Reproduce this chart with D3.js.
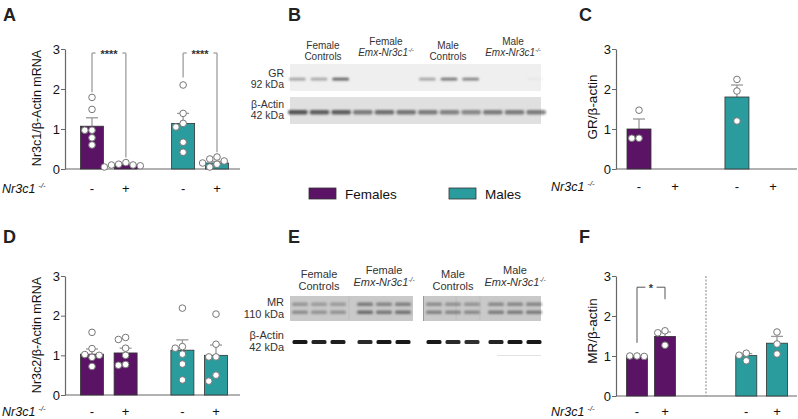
<!DOCTYPE html>
<html><head><meta charset="utf-8">
<script src="https://cdn.jsdelivr.net/npm/d3@7"></script>
<style>body{margin:0;background:#fff}svg{font-family:Arial,"Liberation Sans",sans-serif}</style>
</head><body><svg id="c" width="798" height="419"></svg>
<script>
// ---------------- DATA ----------------
const sexes = ["Females","Males"];
const barSex = ["Females","Females","Males","Males"];
const genotypeLabels = ["-","+","-","+"];
const yTickValues = [0,1,2,3];
const sexColors = {Females:"#5b1465", Males:"#2a9c9e"};

const nr3c1Mean = [1.07, 0.10, 1.14, 0.15];
const nr3c1Sem  = [0.21, 0.02, 0.25, 0.04];
const nr3c1Points = [[1.79,1.49,0.97,0.97,0.78,0.60],[0.05,0.12,0.16,0.10,0.08,0.10],[2.10,1.39,1.14,1.05,0.67,0.42],[0.25,0.30,0.20,0.12,0.15,0.05]];

const nr3c2Mean = [1.03, 1.06, 1.13, 1.00];
const nr3c2Sem  = [0.13, 0.12, 0.26, 0.26];
const nr3c2Points = [[1.58,1.17,1.02,1.00,0.95,0.72],[1.45,1.40,1.18,1.00,0.77,0.75],[2.19,1.22,1.18,1.03,0.78,0.38],[2.04,1.28,0.96,0.96,0.50,0.35]];

const grMean = [1.00, null, 1.80, null];
const grSem  = [0.25, null, 0.30, null];
const grPoints = [[1.47,0.77,0.77],[],[2.24,1.95,1.20],[]];

const mrMean = [1.00, 1.49, 1.01, 1.32];
const mrSem  = [0.01, 0.11, 0.05, 0.17];
const mrPoints = [[0.99,1.00,1.00],[1.63,1.58,1.27],[1.07,1.02,0.88],[1.60,1.30,1.05]];

// significance: [leftBar, rightBar, label, topValue, leftBottomValue, rightBottomValue]
const nr3c1Sig = [[0,1,"****",2.9,1.92,0.29],[2,3,"****",2.9,2.29,0.42]];
const mrSig = [[0,1,"*",2.72,1.33,2.42]];

// western blots
const blotGroups = ["Female|Controls","Female|Emx-Nr3c1","Male|Controls","Male|Emx-Nr3c1"];
const grBand     = [0.40,0.38,0.75, 0,0,0, 0.40,0.65,0.58, 0,0,0.03];
const actinBBand = [0.80,0.75,0.75, 0.58,0.65,0.62, 0.58,0.54,0.50, 0.58,0.58,0.58];
const mrBand     = [0.55,0.50,0.50, 0.85,0.75,0.80, 0.65,0.60,0.58, 0.70,0.72,0.72];
const actinEBand = [0.95,0.90,0.92, 0.88,0.95,0.95, 0.95,0.88,0.85, 0.90,0.95,0.95];

// ---------------- DRAW ----------------
const svg = d3.select("#c");
const defs = svg.append("defs");
defs.append("filter").attr("id","blur").attr("x","-50%").attr("y","-100%").attr("width","200%").attr("height","300%")
  .append("feGaussianBlur").attr("stdDeviation",1.2);
defs.append("filter").attr("id","blur2").attr("x","-50%").attr("y","-100%").attr("width","200%").attr("height","300%")
  .append("feGaussianBlur").attr("stdDeviation",0.7);

function panelLabel(t,x,y){svg.append("text").attr("x",x).attr("y",y).attr("font-size",18).attr("font-weight","bold").attr("fill","#222").text(t);}

function koLabel(g,x,y,size){
  const t=g.append("text").attr("x",x).attr("y",y).attr("font-size",size).attr("font-style","italic").attr("fill","#111");
  t.append("tspan").text("Nr3c1");
  t.append("tspan").attr("dx",3).attr("dy",-5).attr("font-size",size*0.62).text("-/-");
}

function swarm(vals, y, r){
  const placed=[]; const out=[];
  const order = vals.map((v,i)=>i).sort((a,b)=>vals[b]-vals[a]);
  order.forEach(i=>{
    const py=y(vals[i]);
    const cands=[0];
    for(let k=1;k<6;k++){cands.push(-k*(2*r+0.6), k*(2*r+0.6));}
    let chosen=0;
    for(const c of cands){
      if(placed.every(p=>Math.hypot(p[0]-c,p[1]-py)>=2*r+0.3)){chosen=c;break;}
    }
    placed.push([chosen,py]); out[i]=chosen;
  });
  return out;
}

function barPanel(cfg){
  const g=svg.append("g");
  const y=d3.scaleLinear().domain([0,3]).range([cfg.yBottom,cfg.yTop]);
  const x=d3.scaleLinear().domain([0,1]).range(cfg.slotRange);
  const cx=i=>x(cfg.slots[i]);
  g.append("line").attr("x1",cfg.axisX).attr("x2",cfg.endX).attr("y1",y(0)).attr("y2",y(0)).attr("stroke","#666").attr("stroke-width",1.2);
  const ax=g.append("g").attr("transform",`translate(${cfg.axisX},0)`)
    .call(d3.axisLeft(y).tickValues(yTickValues).tickSize(4).tickSizeOuter(0).tickFormat(d3.format("d")));
  ax.select(".domain").attr("stroke","#666").attr("stroke-width",1.2);
  ax.selectAll(".tick line").attr("stroke","#666");
  ax.selectAll(".tick text").attr("font-size",13).attr("fill","#111").attr("font-family","Arial,'Liberation Sans',sans-serif").attr("x",-5);
  g.append("text").attr("transform",`translate(${cfg.titleX},${cfg.titleY}) rotate(-90)`).attr("text-anchor","middle")
    .attr("font-size",cfg.titleSize).attr("fill","#111").text(cfg.title);
  if(cfg.divider){
    g.append("line").attr("x1",cfg.divider).attr("x2",cfg.divider).attr("y1",y(3)).attr("y2",y(0))
      .attr("stroke","#999").attr("stroke-width",1.2).attr("stroke-dasharray","2,1.5");
  }
  cfg.means.forEach((m,i)=>{
    if(m==null) return;
    const bw=cfg.barW;
    const top=y(m+cfg.sems[i]);
    g.append("line").attr("x1",cx(i)).attr("x2",cx(i)).attr("y1",y(m)).attr("y2",top).attr("stroke","#999").attr("stroke-width",1.3);
    g.append("line").attr("x1",cx(i)-6).attr("x2",cx(i)+6).attr("y1",top).attr("y2",top).attr("stroke","#999").attr("stroke-width",1.3);
    g.append("rect").attr("x",cx(i)-bw/2).attr("y",y(m)).attr("width",bw).attr("height",y(0)-y(m))
      .attr("fill",sexColors[barSex[i]]).attr("stroke","#333").attr("stroke-width",0.8);
  });
  const r=3.3;
  cfg.points.forEach((pts,i)=>{
    const offs=swarm(pts,y,r);
    pts.forEach((v,k)=>{
      g.append("circle").attr("cx",cx(i)+offs[k]).attr("cy",y(v)).attr("r",r)
        .attr("fill","#fff").attr("stroke","#777").attr("stroke-width",1);
    });
  });
  (cfg.sig||[]).forEach(s=>{
    const [a,b,lab,tv,lb,rb]=s;
    const xa=cx(a), xb=cx(b), yt=y(tv);
    const col=cfg.sigColor;
    g.append("line").attr("x1",xa).attr("x2",xa).attr("y1",yt).attr("y2",y(lb)).attr("stroke",col).attr("stroke-width",cfg.sigW);
    g.append("line").attr("x1",xb).attr("x2",xb).attr("y1",yt).attr("y2",y(rb)).attr("stroke",col).attr("stroke-width",cfg.sigW);
    const mid=(xa+xb)/2, half=lab.length*2.6+3;
    g.append("line").attr("x1",xa).attr("x2",mid-half).attr("y1",yt).attr("y2",yt).attr("stroke",col).attr("stroke-width",cfg.sigW);
    g.append("line").attr("x1",mid+half).attr("x2",xb).attr("y1",yt).attr("y2",yt).attr("stroke",col).attr("stroke-width",cfg.sigW);
    g.append("text").attr("x",mid).attr("y",yt+5).attr("text-anchor","middle").attr("font-size",11).attr("font-weight","bold").attr("fill","#333").text(lab);
  });
  genotypeLabels.forEach((t,i)=>{
    g.append("text").attr("x",cx(i)).attr("y",cfg.labelY).attr("text-anchor","middle").attr("font-size",13).attr("fill","#111").text(t);
  });
  koLabel(g,cfg.koX,cfg.labelY,12.5);
}

barPanel({axisX:65,endX:240,yBottom:169,yTop:49,slots:[0,0.271,0.729,1],slotRange:[92,217],barW:23,
  means:nr3c1Mean,sems:nr3c1Sem,points:nr3c1Points,title:"Nr3c1/β-Actin mRNA",titleX:41,titleY:108,titleSize:12.5,
  sig:nr3c1Sig,sigColor:"#aaa",sigW:1.5,labelY:193,koX:2});
barPanel({axisX:65,endX:240,yBottom:395,yTop:276,slots:[0,0.271,0.729,1],slotRange:[92,216],barW:23,
  means:nr3c2Mean,sems:nr3c2Sem,points:nr3c2Points,title:"Nr3c2/β-Actin mRNA",titleX:41,titleY:335,titleSize:12.5,
  labelY:416,koX:2});
barPanel({axisX:616,endX:797,yBottom:169,yTop:49,slots:[0,0.269,0.731,1],slotRange:[639,773],barW:24,
  means:grMean,sems:grSem,points:grPoints,title:"GR/β-actin",titleX:597,titleY:107,titleSize:13.5,
  labelY:191,koX:551});
barPanel({axisX:616,endX:797,yBottom:396,yTop:276,slots:[0,0.2,0.7806,1],slotRange:[637,777],barW:21,
  means:mrMean,sems:mrSem,points:mrPoints,title:"MR/β-actin",titleX:597,titleY:331,titleSize:13.5,
  sig:mrSig,sigColor:"#555",sigW:1,labelY:416,koX:551,divider:706});

panelLabel("A",3,21); panelLabel("D",3,243); panelLabel("C",579,21); panelLabel("F",579,243);
panelLabel("B",288,21); panelLabel("E",288,243);

const leg=svg.append("g");
sexes.forEach((s,i)=>{
  const lx=[309,449][i];
  leg.append("rect").attr("x",lx).attr("y",188).attr("width",27).attr("height",11).attr("fill",sexColors[s]).attr("stroke","#333").attr("stroke-width",0.8);
  leg.append("text").attr("x",lx+36).attr("y",198.5).attr("font-size",13.5).attr("fill","#111").text(s);
});

function header(g,cxp,yTop,label,size){
  const [l1,l2]=label.split("|");
  if(l2==="Controls"){
    g.append("text").attr("x",cxp).attr("y",yTop+4).attr("text-anchor","middle").attr("font-size",size).attr("fill","#333").text(l1);
    g.append("text").attr("x",cxp).attr("y",yTop+4+size*1.05).attr("text-anchor","middle").attr("font-size",size).attr("fill","#333").text(l2);
  } else {
    g.append("text").attr("x",cxp).attr("y",yTop).attr("text-anchor","middle").attr("font-size",size).attr("fill","#333").text(l1);
    const t=g.append("text").attr("x",cxp).attr("y",yTop+size*1.1).attr("text-anchor","middle").attr("font-size",size).attr("font-style","italic").attr("fill","#333");
    t.append("tspan").text(l2);
    t.append("tspan").attr("dy",-4).attr("font-size",size*0.6).text("-/-");
  }
}
function sideLabel(g,y1,t1,t2,size){
  g.append("text").attr("x",284).attr("y",y1).attr("text-anchor","end").attr("font-size",size).attr("fill","#333").text(t1);
  g.append("text").attr("x",284).attr("y",y1+size*1.05).attr("text-anchor","end").attr("font-size",size).attr("fill","#333").text(t2);
}

// Blot B
const gB=svg.append("g");
const laneB=d3.scaleBand().domain(d3.range(12)).range([287,547]);
const groupB=d3.scaleOrdinal().domain(blotGroups).range([323,386,448,513]);
blotGroups.forEach(gr=>header(gB,groupB(gr),45,gr,10));
sideLabel(gB,77,"GR","92 kDa",10.5);
sideLabel(gB,108,"β-Actin","42 kDa",10.5);
gB.append("rect").attr("x",290).attr("y",64).attr("width",251).attr("height",27).attr("fill","#efefef");
gB.append("rect").attr("x",290).attr("y",97).attr("width",251).attr("height",27).attr("fill","#e0e0e0");
grBand.forEach((v,i)=>{ if(v<=0) return;
  gB.append("rect").attr("x",laneB(i)+2).attr("y",77.8).attr("width",laneB.bandwidth()-5).attr("height",2.8).attr("rx",1.4)
    .attr("fill","#333").attr("opacity",v).attr("filter","url(#blur)");});
actinBBand.forEach((v,i)=>{
  gB.append("rect").attr("x",laneB(i)+1).attr("y",110).attr("width",laneB.bandwidth()-2).attr("height",4.5).attr("rx",2)
    .attr("fill","#333").attr("opacity",v).attr("filter","url(#blur)");});

// Blot E
const gE=svg.append("g");
const groupE=d3.scaleOrdinal().domain(blotGroups).range([319,384,453,515]);
const laneE=i=>groupE(blotGroups[Math.floor(i/3)])+((i%3)-1)*19;
blotGroups.forEach(gr=>header(gE,groupE(gr),274,gr,11));
sideLabel(gE,306,"MR","110 kDa",11);
sideLabel(gE,339,"β-Actin","42 kDa",11);
gE.append("rect").attr("x",290).attr("y",296).attr("width",123).attr("height",25).attr("fill","#c9c9c9");
gE.append("rect").attr("x",423).attr("y",296).attr("width",118).attr("height",25).attr("fill","#c9c9c9");
gE.append("line").attr("x1",423.5).attr("x2",423.5).attr("y1",296).attr("y2",321).attr("stroke","#999");
[349,456,480].forEach(xx=>gE.append("line").attr("x1",xx).attr("x2",xx).attr("y1",296).attr("y2",321).attr("stroke","#bdbdbd"));
mrBand.forEach((v,i)=>{
  [304,312].forEach((yy,k)=>{
    gE.append("rect").attr("x",laneE(i)-8).attr("y",yy-1.5).attr("width",16).attr("height",3.4).attr("rx",1.5)
      .attr("fill","#555").attr("opacity",v*(k?0.95:0.8)).attr("filter","url(#blur)");
  });
});
actinEBand.forEach((v,i)=>{
  gE.append("rect").attr("x",laneE(i)-7.5).attr("y",340).attr("width",15).attr("height",4).attr("rx",1.5)
    .attr("fill","#111").attr("opacity",v).attr("filter","url(#blur2)");
});
gE.append("line").attr("x1",497).attr("x2",541).attr("y1",355.5).attr("y2",355.5).attr("stroke","#e3e3e3");
</script></body></html>
